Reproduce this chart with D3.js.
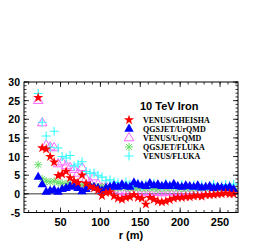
<!DOCTYPE html>
<html>
<head>
<meta charset="utf-8">
<script src="https://cdn.jsdelivr.net/npm/d3@7"></script>
<style>
  body { margin: 0; background: #fff; }
  text { font-family: "Liberation Sans", Arial, sans-serif; font-weight: bold; }
</style>
</head>
<body>
<div id="chart"></div>
<script>
// radial distance grid (m)
var rGrid = d3.range(22, 268, 5);

var venusGheisha = [25.8, 12.3, 12.0, 10.0, 8.5, 4.9, 5.3, 6.0, 4.3, 3.5, 3.0, 5.0, 2.8, 2.0, 1.5, 1.0, -0.5, 0.3, 0.5, -0.6,
  -1.2, -1.5, -1.0, -0.8, -0.3, -1.0, -1.2, -2.8, -1.0, -1.5, -2.0, -2.2, -2.0, -1.6, -1.2, -1.0, -1.0, -0.8, -0.8, -0.6,
  -0.5, -0.7, -0.3, -0.3, -0.2, -0.1, 0.0, 0.2, 0.0, 0.0];
var qgsjetUrqmd = [4.5, 2.5, 0.5, 0.8, 1.0, 0.5, 1.2, 1.5, 2.0, 1.8, 1.5, 0.6, 1.2, 2.0, 1.8, 1.5, 0.8, 1.5, 1.8, 2.2,
  1.8, 2.5, 2.0, 1.8, 3.0, 2.5, 2.2, 2.0, 2.8, 2.2, 2.5, 2.0, 2.4, 2.0, 2.6, 2.0, 1.8, 2.2, 2.0, 1.8,
  2.2, 1.6, 1.8, 2.0, 1.5, 1.8, 1.6, 1.5, 1.8, 1.2];
var venusUrqmd = [25.0, 19.0, 13.0, 12.5, 12.3, 8.0, 8.5, 7.5, 7.0, 6.5, 5.5, 7.0, 4.0, 3.0, 4.5, 2.5, 1.5, 2.0, 1.0, 1.2,
  0.5, 0.8, 0.3, 0.6, 0.8, 0.5, 0.4, 0.6, 0.2, 0.5, 0.3, 0.2, 0.5, 0.4, 0.6, 0.3, 0.5, 0.7, 0.4, 0.6,
  0.5, 0.8, 0.6, 0.5, 0.7, 0.9, 0.6, 0.8, 1.0, 0.7];
var qgsjetFluka = [7.8, 4.0, 3.4, 3.2, 3.4, 3.0, 2.8, 2.7, 2.6, 2.8, 2.4, 2.5, 2.3, 2.2, 2.0, 1.8, 2.0, 1.8, 1.6, 1.7,
  1.5, 1.8, 1.6, 1.4, 1.7, 1.5, 1.6, 1.4, 1.6, 1.5, 1.3, 1.6, 1.4, 1.5, 1.7, 1.4, 1.5, 1.3, 1.6, 1.4,
  1.5, 1.7, 1.4, 1.5, 1.6, 1.3, 1.5, 1.7, 1.4, 1.5];
var venusFluka = [26.9, 19.2, 15.5, 12.5, 16.8, 12.3, 10.0, 9.6, 10.3, 7.5, 8.0, 8.6, 6.0, 5.5, 5.6, 5.0, 4.5, 3.5, 3.8, 3.2,
  3.0, 2.5, 3.2, 2.6, 2.4, 2.8, 2.2, 2.6, 2.3, 2.8, 2.5, 2.2, 2.7, 2.3, 2.4, 2.1, 2.5, 2.2, 2.0, 2.3,
  2.1, 2.4, 2.0, 2.2, 2.6, 2.0, 2.2, 2.5, 2.3, 2.6];

var seriesNames = ["VENUS/GHEISHA", "QGSJET/UrQMD", "VENUS/UrQMD", "QGSJET/FLUKA", "VENUS/FLUKA"];
var seriesColors = ["#ff0000", "#0000ff", "#ff66ff", "#66dd66", "#33ffff"];
var seriesMarkers = ["star", "tri", "opentri", "asterisk", "plus"];
var seriesValues = [venusGheisha, qgsjetUrqmd, venusUrqmd, qgsjetFluka, venusFluka];
var title = "10 TeV Iron";
var xTicks = [50, 100, 150, 200, 250];
var yTicks = [-5, 0, 5, 10, 15, 20, 25, 30];

var w = 273, h = 245;
var padL = 24, padR = 238, padT = 82, padB = 212.5;

var x = d3.scaleLinear().domain([4.2, 272.5]).range([padL, padR]);
var y = d3.scaleLinear().domain([-5, 30]).range([padB, padT]);

var svg = d3.select("#chart").append("svg")
    .attr("width", w)
    .attr("height", h);

// zero line
svg.append("line")
    .attr("x1", padL).attr("x2", padR)
    .attr("y1", y(0)).attr("y2", y(0))
    .attr("stroke", "#000").attr("stroke-width", 0.8);

function marker(g, type, color) {
    if (type == "star") {
        g.append("path").attr("d", d3.symbol().type(d3.symbolStar).size(32)())
            .attr("fill", color);
    } else if (type == "tri") {
        g.append("path").attr("d", d3.symbol().type(d3.symbolTriangle).size(38)())
            .attr("fill", color);
    } else if (type == "opentri") {
        g.append("path").attr("d", d3.symbol().type(d3.symbolTriangle).size(40)())
            .attr("fill", "none").attr("stroke", color).attr("stroke-width", 1);
    } else if (type == "asterisk") {
        g.append("path").attr("d", "M-4,0H4M0,-4V4M-3,-3L3,3M-3,3L3,-3")
            .attr("stroke", color).attr("stroke-width", 1).attr("fill", "none");
    } else {
        g.append("path").attr("d", "M-4.5,0H4.5M0,-4.5V4.5")
            .attr("stroke", color).attr("stroke-width", 1.1).attr("fill", "none");
    }
}

// draw order: magenta, green, cyan, blue, red
[2, 3, 4, 1, 0].forEach(function (k) {
    svg.append("g").selectAll("g")
        .data(seriesValues[k])
        .enter()
        .append("g")
        .attr("transform", function (d, i) {
            return "translate(" + x(rGrid[i]) + "," + y(d) + ")";
        })
        .each(function () {
            marker(d3.select(this), seriesMarkers[k], seriesColors[k]);
        });
});

// frame
svg.append("rect")
    .attr("x", padL).attr("y", padT)
    .attr("width", padR - padL).attr("height", padB - padT)
    .attr("fill", "none").attr("stroke", "#000").attr("stroke-width", 1);

// ticks on all four sides, pointing inwards
var xMinor = d3.range(10, 273, 10);
var yMinor = d3.range(-5, 30.1, 1);

function tickLines(vals, len, isX) {
    vals.forEach(function (v) {
        if (isX) {
            var px = x(v);
            svg.append("line").attr("x1", px).attr("x2", px).attr("y1", padB).attr("y2", padB - len)
                .attr("stroke", "#000").attr("stroke-width", 0.8);
            svg.append("line").attr("x1", px).attr("x2", px).attr("y1", padT).attr("y2", padT + len)
                .attr("stroke", "#000").attr("stroke-width", 0.8);
        } else {
            var py = y(v);
            svg.append("line").attr("y1", py).attr("y2", py).attr("x1", padL).attr("x2", padL + len)
                .attr("stroke", "#000").attr("stroke-width", 0.8);
            svg.append("line").attr("y1", py).attr("y2", py).attr("x1", padR).attr("x2", padR - len)
                .attr("stroke", "#000").attr("stroke-width", 0.8);
        }
    });
}
tickLines(xMinor, 2.5, true);
tickLines(xTicks, 5, true);
tickLines(yMinor, 2.5, false);
tickLines(yTicks, 5, false);

svg.selectAll(".xl").data(xTicks).enter().append("text")
    .attr("x", function (d) { return x(d); })
    .attr("y", 226)
    .attr("text-anchor", "middle")
    .attr("font-size", 11)
    .text(function (d) { return d; });

svg.selectAll(".yl").data(yTicks).enter().append("text")
    .attr("x", 20)
    .attr("y", function (d) { return y(d) + 4; })
    .attr("text-anchor", "end")
    .attr("font-size", 10.5)
    .text(function (d) { return d; });

svg.append("text")
    .attr("x", 131).attr("y", 239)
    .attr("text-anchor", "middle")
    .attr("font-size", 11)
    .text("r (m)");

// legend
svg.append("text")
    .attr("x", 140).attr("y", 110)
    .attr("font-size", 11)
    .text(title);

seriesNames.forEach(function (name, k) {
    var ly = 120 + k * 9;
    var g = svg.append("g").attr("transform", "translate(129," + ly + ")");
    marker(g, seriesMarkers[k], seriesColors[k]);
    svg.append("text")
        .attr("x", 143).attr("y", ly + 3)
        .attr("font-size", 8)
        .style("font-family", "'Liberation Serif', 'Times New Roman', serif")
        .text(name);
});
</script>
</body>
</html>
